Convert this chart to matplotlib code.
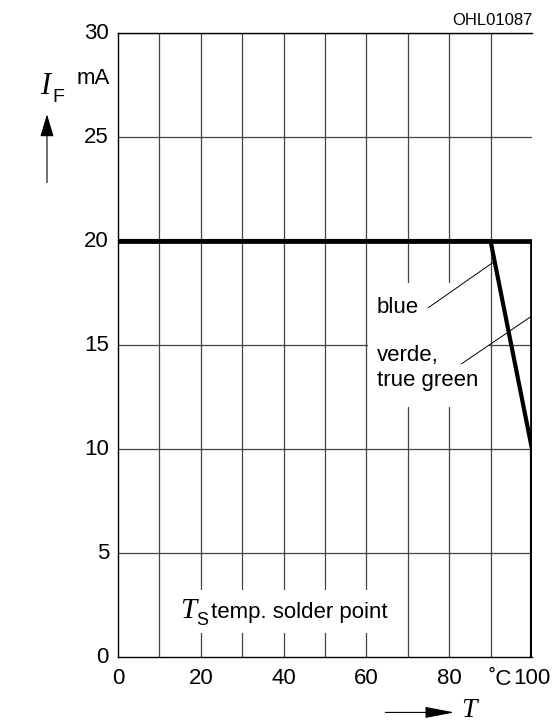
import matplotlib
matplotlib.use("Agg")
from matplotlib import pyplot as plt
from matplotlib.patches import Rectangle, FancyArrowPatch

plt.rcParams['font.family'] = ['Liberation Sans', 'DejaVu Sans']

# forward current derating, T in degC, IF in mA
t_blue = [0, 90, 100, 100]
if_blue = [20, 20, 10, 0]
t_green = [0, 100, 100]
if_green = [20, 20, 0]

xticks = [0, 20, 40, 60, 80, 100]
yticks = [0, 5, 10, 15, 20, 25, 30]

serif_it = dict(fontfamily='Liberation Serif', fontstyle='italic')

fig = plt.figure(figsize=(5.56, 7.24), dpi=100)
ax = fig.add_axes([0.2122, 0.0925, 0.7446, 0.8619])
ax.set_xlim(0, 100)
ax.set_ylim(0, 30)

for x in range(10, 100, 10):
    ax.axvline(x, color='#444444', lw=0.9, zorder=1)
for y in range(5, 31, 5):
    ax.axhline(y, color='#444444', lw=0.9, zorder=1)

ax.plot(t_green, if_green, color='black', lw=3.4, solid_joinstyle='miter', zorder=3)
ax.plot(t_blue, if_blue, color='black', lw=3.0, solid_joinstyle='miter', zorder=3)

ax.spines['right'].set_visible(False)
for s in ['top', 'left', 'bottom']:
    ax.spines[s].set_linewidth(1.0)

ax.set_xticks(xticks)
ax.set_yticks(yticks)
ax.tick_params(length=0, labelsize=16)
ax.tick_params(axis='x', pad=8)
ax.tick_params(axis='y', pad=6.5)
ax.set_xticklabels([str(v) for v in xticks])
ax.set_yticklabels([str(v) for v in yticks])
for lab in ax.get_yticklabels():
    lab.set_verticalalignment('center')

# white patches that interrupt the grid behind the labels
ax.add_patch(Rectangle((11, 1.15), 55, 2.05, facecolor='white', edgecolor='none', zorder=2))
ax.add_patch(Rectangle((60.5, 12.0), 29, 6.0, facecolor='white', edgecolor='none', zorder=2))

# labels inside the plot
ax.text(15, 2.2, 'T', fontsize=21, ha='left', va='center', zorder=4, **serif_it)
ax.text(18.9, 1.75, 'S', fontsize=13, ha='left', va='center', zorder=4)
ax.text(22.5, 2.15, 'temp. solder point', fontsize=16, ha='left', va='center', zorder=4)
ax.text(62.5, 16.8, 'blue', fontsize=16, ha='left', va='center', zorder=4)
ax.text(62.5, 13.9, 'verde,\ntrue green', fontsize=16, ha='left', va='center',
        linespacing=1.2, zorder=4)
ax.plot([75, 90.8], [16.8, 19.0], color='black', lw=0.7, zorder=5)
ax.plot([83, 100], [14.1, 16.4], color='black', lw=0.7, zorder=5)

fig.text(0.899, 0.061, '˚C', fontsize=16, ha='center', va='center')

# axis titles with arrows
fig.text(0.072, 0.880, 'I', fontsize=22, ha='left', va='center', **serif_it)
fig.text(0.094, 0.866, 'F', fontsize=14, ha='left', va='center')
fig.text(0.137, 0.891, 'mA', fontsize=16, ha='left', va='center')
fig.add_artist(FancyArrowPatch(
    (0.0845, 0.744), (0.0845, 0.846), transform=fig.transFigure,
    arrowstyle='-|>,head_length=1.0,head_width=0.3', color='black', lw=0.8, mutation_scale=14))
fig.add_artist(FancyArrowPatch(
    (0.688, 0.0160), (0.822, 0.0160), transform=fig.transFigure,
    arrowstyle='-|>,head_length=1.3,head_width=0.25', color='black', lw=0.8, mutation_scale=14))
fig.text(0.830, 0.0095, 'T', fontsize=20, ha='left', va='baseline', **serif_it)

fig.text(0.958, 0.972, 'OHL01087', fontsize=12, ha='right', va='center')

plt.savefig('out.png', dpi=100)
